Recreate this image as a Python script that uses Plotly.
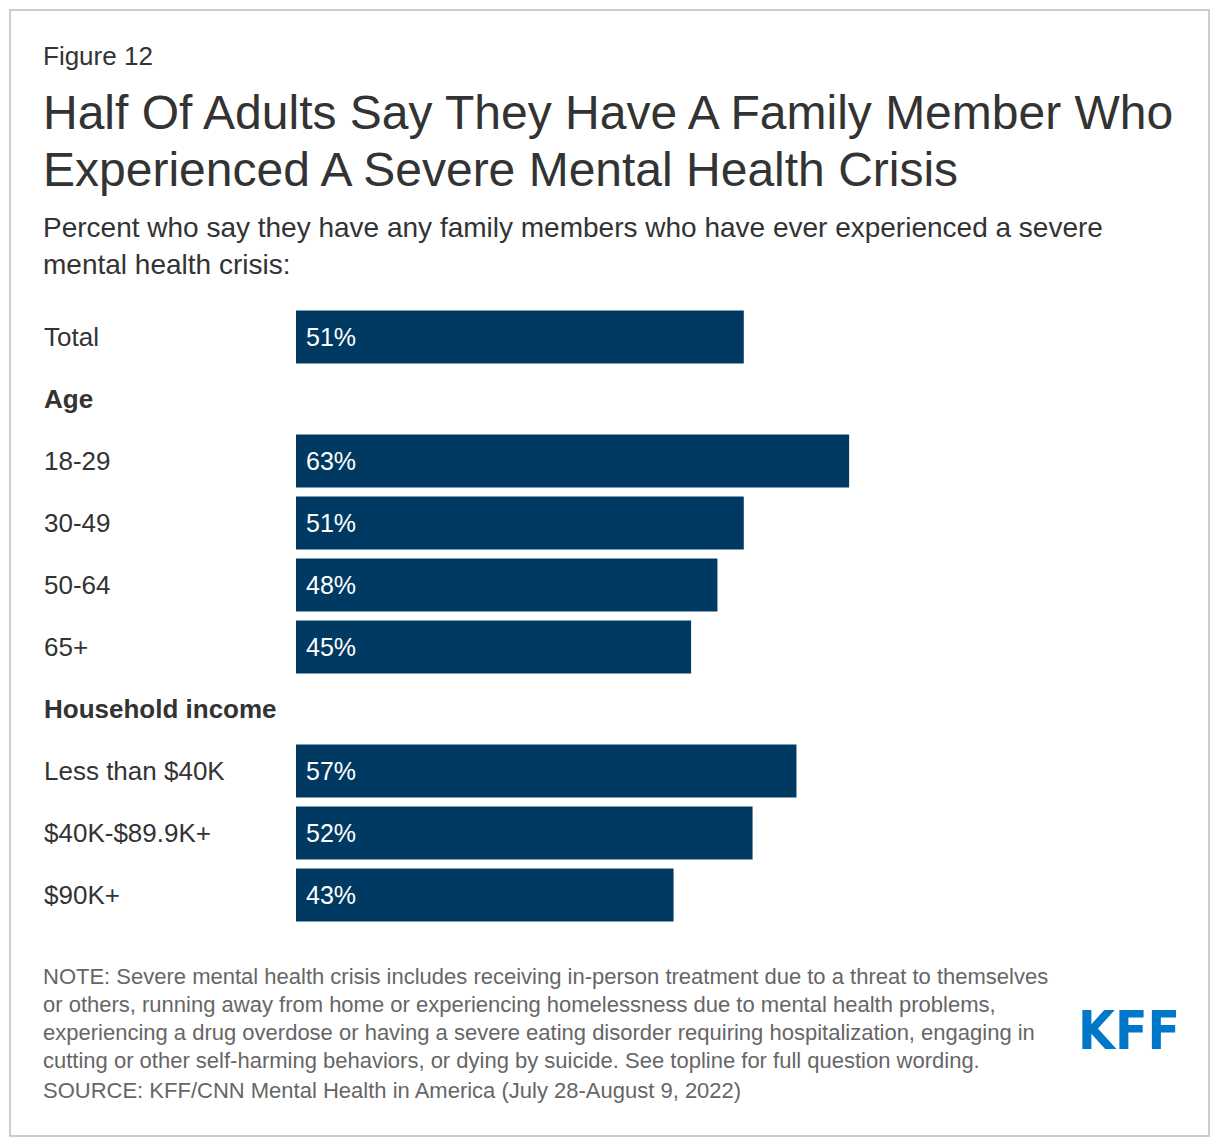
import plotly.graph_objects as go

categories = ["Total", "Age", "18-29", "30-49", "50-64", "65+",
              "Household income", "Less than $40K", "$40K-$89.9K+", "$90K+"]
values = [51, None, 63, 51, 48, 45, None, 57, 52, 43]
is_header = [False, True, False, False, False, False, True, False, False, False]

fig_label = "Figure 12"
title_lines = ["Half Of Adults Say They Have A Family Member Who",
               "Experienced A Severe Mental Health Crisis"]
subtitle_lines = ["Percent who say they have any family members who have ever experienced a severe",
                  "mental health crisis:"]
note_lines = [
    "NOTE: Severe mental health crisis includes receiving in-person treatment due to a threat to themselves",
    "or others, running away from home or experiencing homelessness due to mental health problems,",
    "experiencing a drug overdose or having a severe eating disorder requiring hospitalization, engaging in",
    "cutting or other self-harming behaviors, or dying by suicide. See topline for full question wording.",
    "SOURCE: KFF/CNN Mental Health in America (July 28-August 9, 2022)",
]

W, H = 1204, 1130
OX, OY = 8, 8  # page body margin


def px(x):
    return (x - OX) / W


def py(y):
    return 1 - (y - OY) / H


FONT = "Liberation Sans, Arial, Helvetica, sans-serif"
BAR = "#003a63"
TXT = "#333333"

fig = go.Figure()
fig.add_trace(go.Bar(
    y=categories, x=values, orientation="h",
    marker=dict(color=BAR, line=dict(width=0)),
    width=0.855, hoverinfo="skip", showlegend=False,
))

annotations = []
# bar value labels
for c, v in zip(categories, values):
    if v is not None:
        annotations.append(dict(x=0, y=c, xref="x", yref="y", text=f"{v}%",
                                showarrow=False, xanchor="left", yanchor="middle",
                                xshift=8, font=dict(family=FONT, size=25, color="white")))
# row labels
for c, h in zip(categories, is_header):
    annotations.append(dict(x=px(42), y=c, xref="paper", yref="y",
                            text=f"<b>{c}</b>" if h else c,
                            showarrow=False, xanchor="left", yanchor="middle",
                            font=dict(family=FONT, size=26, color=TXT)))

annotations.append(dict(x=px(41), y=py(56), xref="paper", yref="paper", text=fig_label,
                        showarrow=False, xanchor="left", yanchor="middle",
                        font=dict(family=FONT, size=26, color=TXT)))
for i, t in enumerate(title_lines):
    annotations.append(dict(x=px(41), y=py(112 + 58 * i), xref="paper", yref="paper", text=t,
                            showarrow=False, xanchor="left", yanchor="middle",
                            font=dict(family=FONT, size=48, color=TXT)))
for i, t in enumerate(subtitle_lines):
    annotations.append(dict(x=px(41), y=py(227 + 37 * i), xref="paper", yref="paper", text=t,
                            showarrow=False, xanchor="left", yanchor="middle",
                            font=dict(family=FONT, size=28, color=TXT)))
note_y = [976, 1004, 1032, 1060, 1090]
for t, yy in zip(note_lines, note_y):
    annotations.append(dict(x=px(41), y=py(yy), xref="paper", yref="paper", text=t,
                            showarrow=False, xanchor="left", yanchor="middle",
                            font=dict(family=FONT, size=22, color="#666666")))
annotations.append(dict(x=px(1129), y=py(1030), xref="paper", yref="paper", text="<b>KFF</b>",
                        showarrow=False, xanchor="center", yanchor="middle",
                        font=dict(family="Liberation Sans Narrow, DejaVu Sans Condensed, Arial Narrow, sans-serif",
                                  size=53, color="#0077c8")))

fig.update_layout(
    width=W, height=H,
    margin=dict(l=0, r=0, t=0, b=0),
    paper_bgcolor="white", plot_bgcolor="white",
    xaxis=dict(domain=[px(296), px(1174)], range=[0, 100], visible=False, fixedrange=True),
    yaxis=dict(domain=[py(926), py(306)], type="category", categoryorder="array",
               categoryarray=categories, range=[9.5, -0.5], visible=False, fixedrange=True),
    annotations=annotations,
    shapes=[dict(type="rect", xref="paper", yref="paper",
                 x0=px(10), x1=px(1209), y0=py(1136), y1=py(10),
                 line=dict(color="#cccccc", width=2), fillcolor="rgba(0,0,0,0)", layer="below")],
    font=dict(family=FONT),
)

fig.write_html("out.html")
